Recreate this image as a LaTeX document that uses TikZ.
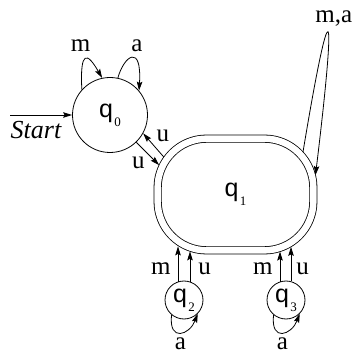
\documentclass[tikz,border=0pt]{standalone}
\usepackage{fontspec}
\setmainfont{Liberation Serif}
\setsansfont{Liberation Sans}
\usetikzlibrary{arrows.meta,positioning}

\newcommand{\qname}[1]{q\hspace{1.5pt}{\fontsize{13}{13}\selectfont\rmfamily\raisebox{-9pt}{#1}}}

\begin{document}
\begin{tikzpicture}[
    x=1pt, y=1pt,
    state/.style={circle, draw, line width=0.8pt, inner sep=0pt, font=\fontsize{25}{25}\selectfont\sffamily},
    accept/.style={rectangle, draw, line width=0.8pt, double, double distance=6.5pt, rounded corners=49pt, minimum width=155.7pt, minimum height=111.7pt, inner sep=0pt, outer sep=0pt, font=\fontsize{25}{25}\selectfont\sffamily},
    arr/.style={line width=0.8pt, -{Stealth[length=9pt,width=5.5pt,inset=1.5pt]}},
    lbl/.style={inner sep=2pt, font=\fontsize{25}{30}\selectfont}
]
\useasboundingbox (0,0) rectangle (354,354);

% States
\node[state, minimum size=75pt] (q0) at (110,239) {\qname{0}};
\node[accept] (q1) at (235.5,159.5) {\qname{1}};
\node[state, minimum size=38pt] (q2) at (184,54) {\qname{2}};
\node[state, minimum size=38pt] (q3) at (286,54) {\qname{3}};

% Start
\coordinate (start) at (10,239);
\draw[arr] (start) -- (q0);
\node[lbl, font=\fontsize{26}{30}\selectfont] (startLbl) at (36,224) {\itshape Start};

% Loops on q0
\draw[arr] (q0.138) .. controls +(-2,40) and +(-15,26) .. (q0.102)
    node[lbl, pos=0.5, above=5pt, xshift=-5pt] (mLoop) {m};
\draw[arr] (q0.78) .. controls +(6,22) and +(3,48) .. (q0.40)
    node[lbl, pos=0.5, above=4pt, xshift=5pt] (aLoop) {a};

% q0 <-> q1
\coordinate (q1up) at (163.8,197);
\coordinate (q1dn) at (159.1,188.9);
\draw[arr] (q1up) -- (q0.331) node[lbl, midway, above right=1pt] (uBack) {u};
\draw[arr] (q0.314) -- (q1dn) node[lbl, midway, below left=1pt] (uFwd) {u};

% Loop on q1
\coordinate (q1out) at (303,202);
\coordinate (q1in) at (315.5,179);
\draw[arr] (q1out) .. controls +(27,163) and +(22.5,186) .. (q1in)
    node[lbl, pos=0.5, above=4pt, xshift=6pt] (maLoop) {m,a};

% q2 -> q1
\draw[arr, shorten >=-4pt] (q2.108) -- (q2.108 |- q1.south)
    node[lbl, pos=0.4, left=5pt] (mTwo) {m};
\draw[arr, shorten >=1pt] (q2.72) -- (q2.72 |- q1.south)
    node[lbl, pos=0.4, right=6pt] (uTwo) {u};
\draw[arr] (q2.230) .. controls +(-3,-28) and +(-8,-21) .. (q2.315)
    node[lbl, pos=0.5, below=3pt] (aTwo) {a};

% q3 -> q1
\draw[arr, shorten >=1.2pt] (q3.108) -- (q3.108 |- q1.south)
    node[lbl, pos=0.4, left=5pt] (mThree) {m};
\draw[arr, shorten >=-3.5pt] (q3.75) -- (q3.75 |- q1.south)
    node[lbl, pos=0.4, right=3pt] (uThree) {u};
\draw[arr] (q3.230) .. controls +(-3,-28) and +(-8,-21) .. (q3.315)
    node[lbl, pos=0.5, below=3pt] (aThree) {a};

\end{tikzpicture}
\end{document}
